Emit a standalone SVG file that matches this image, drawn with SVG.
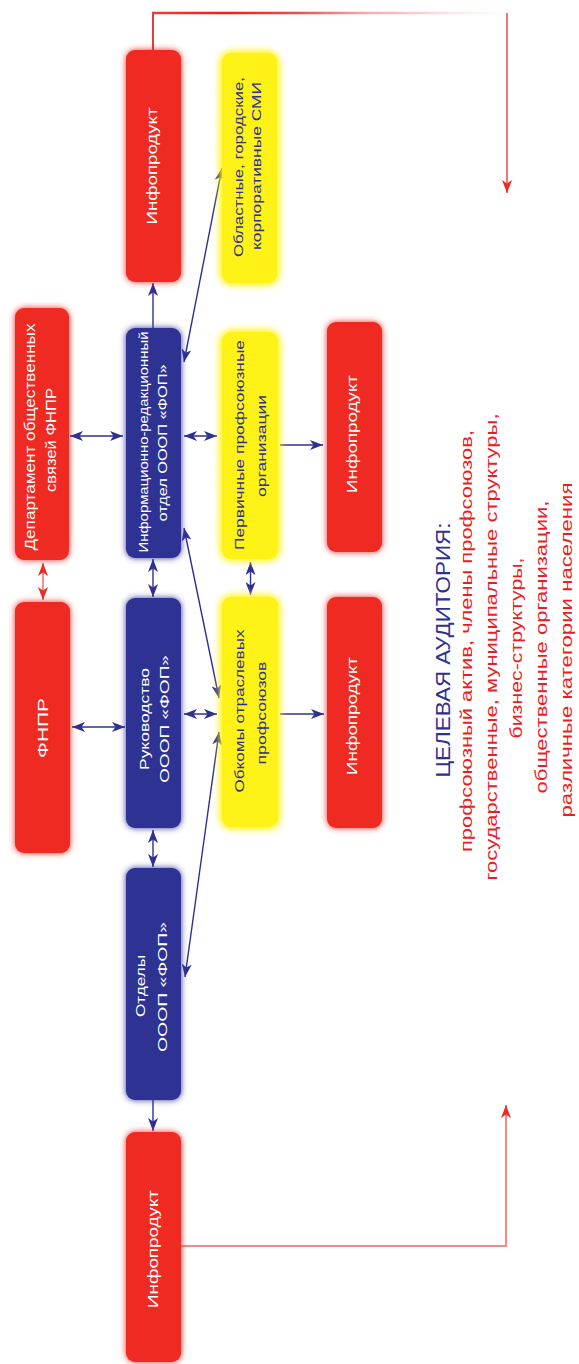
<svg xmlns="http://www.w3.org/2000/svg" width="579" height="1364" viewBox="0 0 579 1364">
<style>
.red{fill:#ee2b24}
.blue{fill:#2e3192}
.yel{fill:#fff212}
.box{filter:url(#glow)}
.yel.box{filter:url(#glowy)}
text{font-family:"Liberation Sans",Arial,sans-serif;text-anchor:middle}
.w{fill:#ffffff}
.d{fill:#2e3192}
.r{fill:#ed1c24}
.bl{stroke:#2e3192;stroke-width:1.4;fill:none}
</style>
<defs>
<filter id="glow" x="-30%" y="-10%" width="160%" height="120%">
<feGaussianBlur in="SourceGraphic" stdDeviation="3" result="b"/>
<feMerge><feMergeNode in="b"/><feMergeNode in="SourceGraphic"/></feMerge>
</filter>
<filter id="glowy" x="-40%" y="-15%" width="180%" height="130%">
<feGaussianBlur in="SourceGraphic" stdDeviation="4.5" result="b"/>
<feMerge><feMergeNode in="b"/><feMergeNode in="b"/><feMergeNode in="SourceGraphic"/></feMerge>
</filter>
<marker id="ab" viewBox="0 0 13 10" refX="13" refY="5" markerWidth="13" markerHeight="10" orient="auto-start-reverse" markerUnits="userSpaceOnUse">
<path d="M0,0 L13,5 L0,10 L3.5,5 z" fill="#2e3192"/>
</marker>
<marker id="ar" viewBox="0 0 13 10" refX="13" refY="5" markerWidth="13" markerHeight="10" orient="auto-start-reverse" markerUnits="userSpaceOnUse">
<path d="M0,0 L13,5 L0,10 L3.5,5 z" fill="#ee2b24"/>
</marker>
<linearGradient id="topg" gradientUnits="userSpaceOnUse" x1="153" y1="0" x2="507" y2="0">
<stop offset="0" stop-color="#e84040"/>
<stop offset="0.2" stop-color="#ed1c24"/>
<stop offset="0.4" stop-color="#ee4a4a"/>
<stop offset="0.6" stop-color="#f5aaaa"/>
<stop offset="0.85" stop-color="#fce8e8"/>
<stop offset="1" stop-color="#ffffff"/>
</linearGradient>
</defs>

<g id="connectors">
<path d="M153,50 L153,13" stroke="#e83a3a" stroke-width="2" fill="none"/>
<path d="M152,13 L507,13" stroke="url(#topg)" stroke-width="2.5" fill="none"/>
<path d="M507,13 L507,193" stroke="#e44848" stroke-width="1.5" fill="none" marker-end="url(#ar)"/>
<path d="M181,1246 L506,1246 L506,1105" stroke="#f58a80" stroke-width="2" fill="none" marker-end="url(#ar)"/>
<path d="M43,563 L43,600" stroke="#f06060" stroke-width="1.4" fill="none" marker-start="url(#ar)" marker-end="url(#ar)"/>
<path class="bl" d="M70,436 L123,436" marker-start="url(#ab)" marker-end="url(#ab)"/>
<path class="bl" d="M184,436 L217,436" marker-start="url(#ab)" marker-end="url(#ab)"/>
<path class="bl" d="M280,445 L323,445" marker-end="url(#ab)"/>
<path class="bl" d="M72,727 L125,727" marker-start="url(#ab)" marker-end="url(#ab)"/>
<path class="bl" d="M184,714 L217,714" marker-start="url(#ab)" marker-end="url(#ab)"/>
<path class="bl" d="M280,714 L324,714" marker-end="url(#ab)"/>
<path class="bl" d="M153,328 L153,283" marker-end="url(#ab)"/>
<path class="bl" d="M153,559 L153,597" marker-start="url(#ab)" marker-end="url(#ab)"/>
<path class="bl" d="M250.5,562 L250.5,595" marker-start="url(#ab)" marker-end="url(#ab)"/>
<path class="bl" d="M153,830 L153,867" marker-start="url(#ab)" marker-end="url(#ab)"/>
<path class="bl" d="M153,1100 L153,1131" marker-end="url(#ab)"/>
<path class="bl" d="M184,362 L222,168" marker-start="url(#ab)" marker-end="url(#ab)"/>
<path class="bl" d="M184,528 L219,698" marker-start="url(#ab)" marker-end="url(#ab)"/>
<path class="bl" d="M185,977 L219,732" marker-start="url(#ab)" marker-end="url(#ab)"/>
</g>

<g id="dept">
<rect class="red box" x="15" y="308" width="54" height="252" rx="9"/>
<text class="w" font-size="14" transform="translate(35,437) rotate(-90)" textLength="227" lengthAdjust="spacingAndGlyphs">Департамент общественных</text>
<text class="w" font-size="14" transform="translate(56,440) rotate(-90)" textLength="104" lengthAdjust="spacingAndGlyphs">связей ФНПР</text>
</g>

<g id="fnpr">
<rect class="red box" x="15" y="602" width="55" height="251" rx="9"/>
<text class="w" font-size="15" transform="translate(48,728) rotate(-90)" textLength="60" lengthAdjust="spacingAndGlyphs">ФНПР</text>
</g>

<g id="info-top">
<rect class="red box" x="126" y="50" width="55" height="232" rx="9"/>
<text class="w" font-size="14.5" transform="translate(157,166) rotate(-90)" textLength="117" lengthAdjust="spacingAndGlyphs">Инфопродукт</text>
</g>

<g id="info-dept">
<rect class="blue box" x="126" y="328" width="55" height="230" rx="9"/>
<text class="w" font-size="12.5" transform="translate(147.5,442) rotate(-90)" textLength="221" lengthAdjust="spacingAndGlyphs">Информационно-редакционный</text>
<text class="w" font-size="12.5" transform="translate(167,443) rotate(-90)" textLength="157" lengthAdjust="spacingAndGlyphs">отдел ОООП «ФОП»</text>
</g>

<g id="rukovodstvo">
<rect class="blue box" x="126" y="598" width="55" height="230" rx="9"/>
<text class="w" font-size="13.5" transform="translate(148.5,719) rotate(-90)" textLength="102" lengthAdjust="spacingAndGlyphs">Руководство</text>
<text class="w" font-size="13.5" transform="translate(169,719) rotate(-90)" textLength="128" lengthAdjust="spacingAndGlyphs">ОООП «ФОП»</text>
</g>

<g id="otdely">
<rect class="blue box" x="126" y="868" width="55" height="232" rx="9"/>
<text class="w" font-size="13" transform="translate(145,986) rotate(-90)" textLength="62" lengthAdjust="spacingAndGlyphs">Отделы</text>
<text class="w" font-size="13" transform="translate(167,987) rotate(-90)" textLength="130" lengthAdjust="spacingAndGlyphs">ОООП «ФОП»</text>
</g>

<g id="info-bottom">
<rect class="red box" x="126" y="1132" width="55" height="230" rx="9"/>
<text class="w" font-size="14.5" transform="translate(158,1249) rotate(-90)" textLength="118" lengthAdjust="spacingAndGlyphs">Инфопродукт</text>
</g>

<g id="smi">
<rect class="yel box" x="222" y="53" width="55" height="230" rx="9"/>
<text class="d" font-size="12.5" transform="translate(242.5,167) rotate(-90)" textLength="180" lengthAdjust="spacingAndGlyphs">Областные, городские,</text>
<text class="d" font-size="12.5" transform="translate(261,166) rotate(-90)" textLength="168" lengthAdjust="spacingAndGlyphs">корпоративные СМИ</text>
</g>

<g id="pervichnye">
<rect class="yel box" x="222" y="332" width="56" height="227" rx="9"/>
<text class="d" font-size="13.5" transform="translate(243.5,445) rotate(-90)" textLength="210" lengthAdjust="spacingAndGlyphs">Первичные профсоюзные</text>
<text class="d" font-size="13.5" transform="translate(266,446) rotate(-90)" textLength="102" lengthAdjust="spacingAndGlyphs">организации</text>
</g>

<g id="obkomy">
<rect class="yel box" x="222" y="597" width="56" height="230" rx="9"/>
<text class="d" font-size="13.5" transform="translate(243.5,711) rotate(-90)" textLength="163" lengthAdjust="spacingAndGlyphs">Обкомы отраслевых</text>
<text class="d" font-size="13.5" transform="translate(265.5,713) rotate(-90)" textLength="103" lengthAdjust="spacingAndGlyphs">профсоюзов</text>
</g>

<g id="info-mid1">
<rect class="red box" x="327" y="322" width="55" height="230" rx="9"/>
<text class="w" font-size="14.5" transform="translate(356.5,434) rotate(-90)" textLength="118" lengthAdjust="spacingAndGlyphs">Инфопродукт</text>
</g>

<g id="info-mid2">
<rect class="red box" x="327" y="597" width="55" height="231" rx="9"/>
<text class="w" font-size="14.5" transform="translate(356.5,716) rotate(-90)" textLength="118" lengthAdjust="spacingAndGlyphs">Инфопродукт</text>
</g>

<g id="audience">
<text class="d" font-size="20" transform="translate(449.5,650) rotate(-90)" textLength="255" lengthAdjust="spacingAndGlyphs">ЦЕЛЕВАЯ АУДИТОРИЯ:</text>
<text class="r" font-size="17" transform="translate(472,641) rotate(-90)" textLength="422" lengthAdjust="spacingAndGlyphs">профсоюзный актив, члены профсоюзов,</text>
<text class="r" font-size="17" transform="translate(497,647) rotate(-90)" textLength="467" lengthAdjust="spacingAndGlyphs">государственные, муниципальные структуры,</text>
<text class="r" font-size="17" transform="translate(522,648) rotate(-90)" textLength="181" lengthAdjust="spacingAndGlyphs">бизнес-структуры,</text>
<text class="r" font-size="17" transform="translate(547,647) rotate(-90)" textLength="293" lengthAdjust="spacingAndGlyphs">общественные организации,</text>
<text class="r" font-size="17" transform="translate(572,650) rotate(-90)" textLength="335" lengthAdjust="spacingAndGlyphs">различные категории населения</text>
</g>
</svg>
